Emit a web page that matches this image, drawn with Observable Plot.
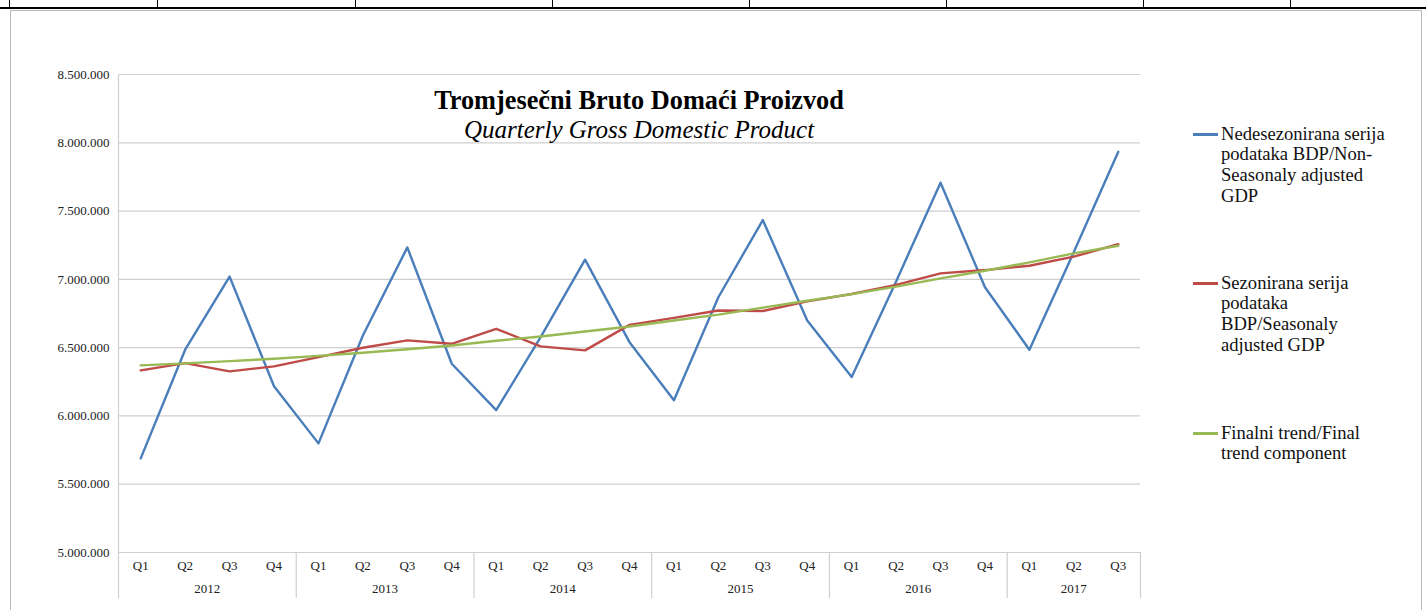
<!DOCTYPE html>
<html>
<head>
<meta charset="utf-8">
<script src="https://cdn.jsdelivr.net/npm/d3@7"></script>
<script src="https://cdn.jsdelivr.net/npm/@observablehq/plot@0.6"></script>
<style>
  body { margin: 0; background: #fff; }
  #wrap { position: relative; width: 1426px; height: 610px; overflow: hidden; background: #fff; }
  .abs { position: absolute; }
  .title { font-family: "Liberation Serif", serif; color: #000; white-space: nowrap; transform: translateX(-50%); }
  .leg { font-family: "Liberation Serif", serif; font-size: 18.6px; line-height: 20.8px; color: #111; white-space: nowrap; }
  .sw { height: 2.5px; width: 25px; }
</style>
</head>
<body>
<div id="wrap">
  <div class="abs" style="left:0;top:7px;width:1426px;height:2px;background:#000"></div>
  <div id="cells"></div>
  <div class="abs" style="left:10px;top:10px;width:1412px;height:640px;border:1px solid #b8b8b8;box-sizing:border-box"></div>
  <div id="chart" class="abs" style="left:0;top:0"></div>
  <div class="abs title" style="left:639px;top:86px;font-size:26.3px;font-weight:bold;line-height:30px">Tromjesečni Bruto Domaći Proizvod</div>
  <div class="abs title" style="left:639px;top:115px;font-size:25px;font-style:italic;line-height:30px">Quarterly Gross Domestic Product</div>
  <div id="legend"></div>
</div>
<script>
// ---- data ----
const quarterLabels = ["Q1","Q2","Q3","Q4","Q1","Q2","Q3","Q4","Q1","Q2","Q3","Q4","Q1","Q2","Q3","Q4","Q1","Q2","Q3","Q4","Q1","Q2","Q3"];
const yearLabels = ["2012","2013","2014","2015","2016","2017"];
const quartersPerYear = [4,4,4,4,4,3];
const nonSeasonal = [5689000,6485000,7020000,6217000,5799000,6589000,7234000,6382000,6042000,6577000,7144000,6540000,6115000,6869000,7434000,6699000,6285000,6985000,7708000,6942000,6485000,7200000,7934000];
const seasonal = [6334000,6387000,6326000,6363000,6431000,6499000,6553000,6528000,6638000,6509000,6480000,6667000,6718000,6772000,6768000,6839000,6893000,6959000,7044000,7068000,7100000,7166000,7258000];
const trend = [6370000,6385000,6401000,6419000,6440000,6463000,6488000,6516000,6550000,6582000,6618000,6655000,6699000,6742000,6793000,6843000,6892000,6947000,7007000,7063000,7124000,7190000,7246000];
const yTicks = [5000000,5500000,6000000,6500000,7000000,7500000,8000000,8500000];
const seriesNames = [
  "Nedesezonirana serija<br>podataka BDP/Non-<br>Seasonaly adjusted<br>GDP",
  "Sezonirana serija<br>podataka<br>BDP/Seasonaly<br>adjusted GDP",
  "Finalni trend/Final<br>trend component"
];
const seriesColors = ["#4A7EBB", "#BE4B48", "#98B954"];

// ---- derived tables ----
const rows = quarterLabels.map((q, i) => ({i, q, ns: nonSeasonal[i], s: seasonal[i], t: trend[i]}));
let start = 0;
const years = yearLabels.map((y, k) => {
  const n = quartersPerYear[k];
  const r = {year: y, first: start, last: start + n - 1, mid: start + (n - 1) / 2};
  start += n;
  return r;
});
const dividers = years.map(d => d.last + 0.5);
const fmt = d3.formatLocale({decimal: ",", thousands: ".", grouping: [3], currency: ["", ""]}).format(",");

const grid = "#cfcfcf";
const plot = Plot.plot({
  width: 1426,
  height: 610,
  marginLeft: 118,
  marginRight: 286,
  marginTop: 74,
  marginBottom: 58,
  style: {fontFamily: "Liberation Serif, serif", fontSize: "13px", background: "transparent", color: "#222", overflow: "visible"},
  x: {domain: [-0.5, quarterLabels.length - 0.5], axis: null},
  y: {domain: [yTicks[0], yTicks[yTicks.length - 1]], axis: null},
  marks: [
    Plot.gridY(yTicks, {stroke: grid, strokeOpacity: 1, strokeWidth: 1.2}),
    Plot.ruleX([-0.5], {stroke: grid, strokeWidth: 1.2, insetBottom: -46}),
    Plot.ruleX(dividers, {y1: yTicks[0], y2: yTicks[0], stroke: grid, strokeWidth: 1.2, insetBottom: -46}),
    Plot.axisY(yTicks, {tickSize: 0, tickPadding: 9, tickFormat: fmt, fontSize: 13}),
    Plot.text(rows, {x: "i", text: "q", frameAnchor: "bottom", dy: 17.5, fontSize: 13}),
    Plot.text(years, {x: "mid", text: "year", frameAnchor: "bottom", dy: 40.5, fontSize: 13}),
    Plot.line(rows, {x: "i", y: "ns", stroke: seriesColors[0], strokeWidth: 2.4}),
    Plot.line(rows, {x: "i", y: "s", stroke: seriesColors[1], strokeWidth: 2.4}),
    Plot.line(rows, {x: "i", y: "t", stroke: seriesColors[2], strokeWidth: 2.4})
  ]
});
document.getElementById("chart").appendChild(plot);

// top cell dividers
const cellX = [9, 157, 355, 552, 749, 946, 1143, 1290];
document.getElementById("cells").innerHTML = cellX.map(x =>
  `<div class="abs" style="left:${x}px;top:0;width:1px;height:8px;background:#000"></div>`).join("");

// legend
const legTops = [134, 283, 433];
document.getElementById("legend").innerHTML = seriesNames.map((n, k) =>
  `<div class="abs sw" style="left:1193px;top:${legTops[k] - 1}px;background:${seriesColors[k]}"></div>` +
  `<div class="abs leg" style="left:1221px;top:${legTops[k] - 10.5}px">${n}</div>`).join("");
</script>
</body>
</html>
